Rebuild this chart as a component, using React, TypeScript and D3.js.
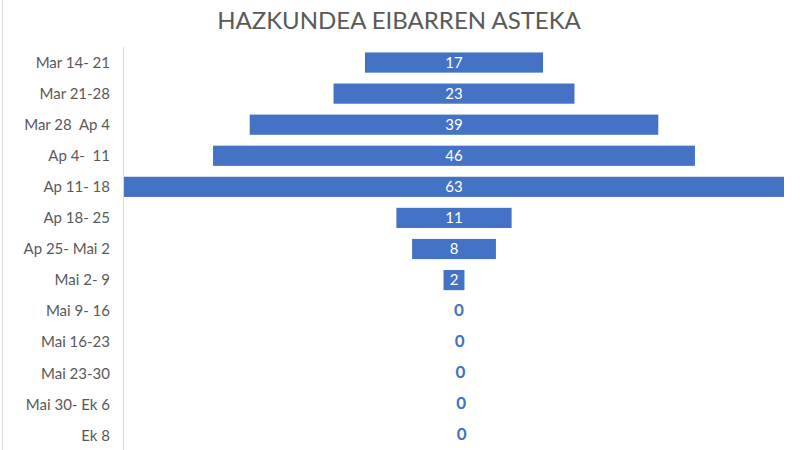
import React from "react";
import * as d3 from "d3";

const categories = [
  "Mar 14- 21",
  "Mar 21-28",
  "Mar 28  Ap 4",
  "Ap 4-  11",
  "Ap 11- 18",
  "Ap 18- 25",
  "Ap 25- Mai 2",
  "Mai 2- 9",
  "Mai 9- 16",
  "Mai 16-23",
  "Mai 23-30",
  "Mai 30- Ek 6",
  "Ek 8",
];
const values = [17, 23, 39, 46, 63, 11, 8, 2, 0, 0, 0, 0, 0];
const title = "HAZKUNDEA EIBARREN ASTEKA";

const W = 800;
const H = 450;
const left = 124;
const right = 784;
const top = 47;
const bottom = 451;
const FONT = "Lato, 'Open Sans', sans-serif";
const BLUE = "#4472C4";

export default function App() {
  const center = (left + right) / 2;
  const w = d3.scaleLinear().domain([0, 63]).range([0, right - left]);
  const y = d3
    .scaleBand<string>()
    .domain(categories)
    .range([top, bottom])
    .paddingInner(0.35)
    .paddingOuter(0.175);
  return (
    <svg
      width={W}
      height={H}
      style={{ position: "absolute", left: 0, top: 0, background: "#fff" }}
      fontFamily={FONT}
    >
      <rect x={0} y={0} width={W} height={H} fill="#fff" />
      <line x1={2.5} x2={2.5} y1={0} y2={H} stroke="#d9d9d9" />
      <text
        x={399}
        y={29}
        textAnchor="middle"
        fontSize={24}
        fill="#595959"
      >
        {title}
      </text>
      <line x1={left - 0.5} x2={left - 0.5} y1={top} y2={H} stroke="#d9d9d9" />
      {categories.map((c, i) => {
        const v = values[i];
        const yy = y(c)!;
        const bw = w(v);
        const cy = yy + y.bandwidth() / 2;
        return (
          <g key={c}>
            <text
              x={110}
              y={cy}
              dy="0.35em"
              textAnchor="end"
              fontSize={15}
              fill="#595959"
              style={{ whiteSpace: "pre" }}
            >
              {c}
            </text>
            {v > 0 && (
              <rect
                x={center - bw / 2}
                y={yy}
                width={bw}
                height={y.bandwidth()}
                fill={BLUE}
              />
            )}
            {v > 0 ? (
              <text
                x={center}
                y={cy}
                dy="0.35em"
                textAnchor="middle"
                fontSize={15}
                fill="#fff"
              >
                {v}
              </text>
            ) : (
              <text
                x={center + 5 + (i - 8) * 0.7}
                y={cy - 1}
                dy="0.35em"
                textAnchor="middle"
                fontSize={17}
                fontWeight="bold"
                fill={BLUE}
              >
                {v}
              </text>
            )}
          </g>
        );
      })}
    </svg>
  );
}
